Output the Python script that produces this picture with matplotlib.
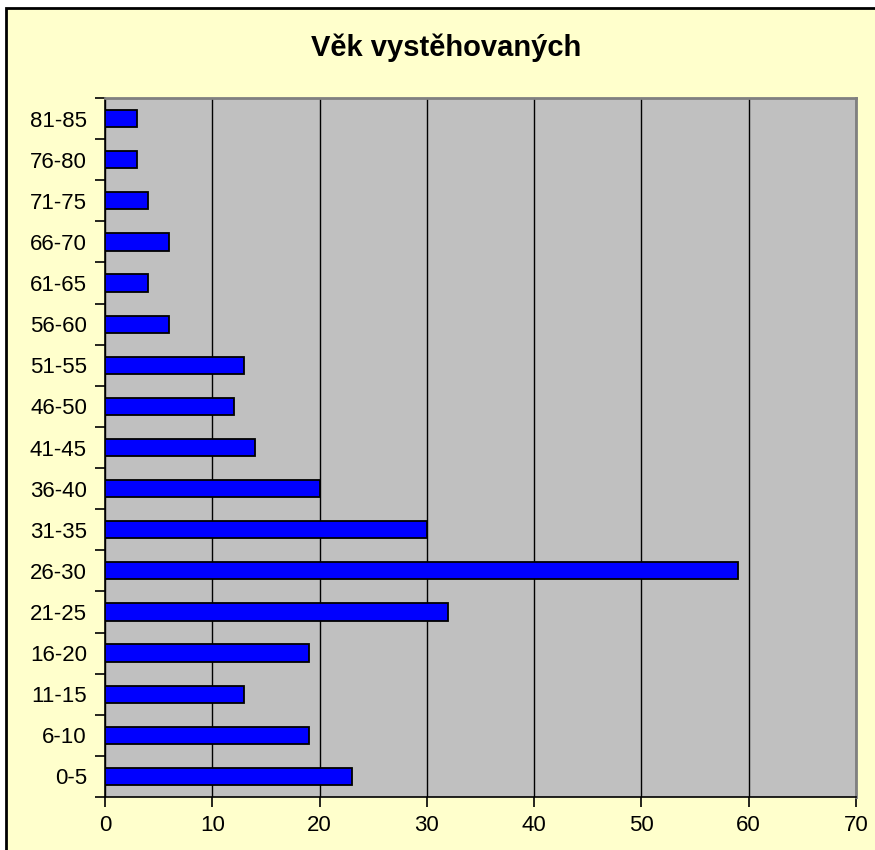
import matplotlib.pyplot as plt
import matplotlib.patches as mpatches
import numpy as np

AGE_GROUPS = ['0-5', '6-10', '11-15', '16-20', '21-25', '26-30', '31-35', '36-40',
              '41-45', '46-50', '51-55', '56-60', '61-65', '66-70', '71-75',
              '76-80', '81-85']
COUNTS = [23, 19, 13, 19, 32, 59, 30, 20, 14, 12, 13, 6, 4, 6, 4, 3, 3]
X_TICKS = [0, 10, 20, 30, 40, 50, 60, 70]

plt.rcParams['font.family'] = ['Liberation Sans', 'DejaVu Sans']

fig = plt.figure(figsize=(8.75, 8.5), dpi=100, facecolor='white')

# yellow chart area with black border (right/bottom run off the image)
fig.patches.append(mpatches.Rectangle(
    (6 / 875, -0.01), 1.0, 1 - 8 / 850 + 0.01, transform=fig.transFigure,
    facecolor='#FFFFCC', edgecolor='black', linewidth=2, zorder=-10))

ax = fig.add_axes([105 / 875, 1 - 797 / 850, 751 / 875, 699 / 850])
ax.set_zorder(1)
ax.set_facecolor('#C0C0C0')

y = np.arange(len(AGE_GROUPS))
ax.barh(y, COUNTS, height=0.42, color='#0000FF', edgecolor='black',
        linewidth=1.3, zorder=3)

ax.set_xlim(0, 70)
ax.set_ylim(-0.5, len(AGE_GROUPS) - 0.5)

ax.set_xticks(X_TICKS)
ax.set_xticklabels([str(v) for v in X_TICKS], fontsize=16)
ax.set_yticks(y)
ax.set_yticklabels(AGE_GROUPS, fontsize=16)
ax.tick_params(axis='y', length=0, pad=13)
ax.set_yticks(np.arange(len(AGE_GROUPS) + 1) - 0.5, minor=True)
ax.tick_params(axis='y', which='minor', length=7, width=1.2, direction='out')
ax.tick_params(axis='x', length=7, width=1.2, direction='out', pad=6)

ax.grid(axis='x', color='black', linewidth=1, zorder=1)
ax.set_axisbelow(True)

for side in ['top', 'right']:
    ax.spines[side].set_color('#808080')
    ax.spines[side].set_linewidth(2)
for side in ['left', 'bottom']:
    ax.spines[side].set_color('black')
    ax.spines[side].set_linewidth(1.2)

fig.text(446 / 875, 1 - 48 / 850, 'Věk vystěhovaných', ha='center', va='center',
         fontsize=21, fontweight='bold')

plt.savefig('out.png', dpi=100)
